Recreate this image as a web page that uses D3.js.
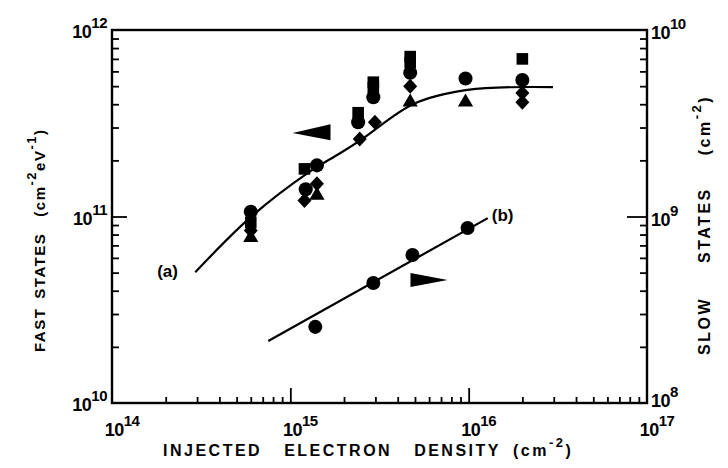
<!DOCTYPE html>
<html>
<head>
<meta charset="utf-8">
<script src="https://cdn.jsdelivr.net/npm/d3@7"></script>
<style>
  html, body { margin: 0; padding: 0; background: #fff; }
  svg { display: block; }
  text { font-family: "Liberation Sans", Arial, sans-serif; font-weight: bold; fill: #000; }
</style>
</head>
<body>
<svg id="chart" width="728" height="468"></svg>
<script>
// ---------------- data ----------------
const xExps = [14, 15, 16, 17];          // bottom axis decades
const leftExps = [10, 11, 12];            // fast states decades
const rightExps = [8, 9, 10];             // slow states decades

// Fast states (left axis), grouped by marker type: [x, y]
const fastCircles = [[6.0e14, 1.06e11], [1.22e15, 1.4e11], [1.41e15, 1.88e11], [2.4e15, 3.2e11],
                     [2.92e15, 4.36e11], [4.7e15, 5.9e11], [9.6e15, 5.5e11], [2.0e16, 5.4e11]];
const fastSquares = [[6.0e14, 9.3e10], [1.2e15, 1.8e11], [2.4e15, 3.6e11], [2.92e15, 5.25e11],
                     [2.92e15, 4.9e11], [4.7e15, 7.2e11], [4.7e15, 6.7e11], [2.0e16, 7.0e11]];
const fastDiamonds = [[6.0e14, 8.4e10], [1.2e15, 1.22e11], [1.41e15, 1.5e11], [2.45e15, 2.6e11],
                      [2.98e15, 3.2e11], [4.7e15, 5.0e11], [2.0e16, 4.6e11], [2.0e16, 4.1e11]];
const fastTriangles = [[6.0e14, 7.7e10], [1.41e15, 1.3e11], [4.7e15, 4.1e11], [9.6e15, 4.1e11]];

// Fitted curve (a) through the fast states
const curveA = [[2.93e14, 5.03e10], [6.12e14, 1.01e11], [1.25e15, 1.71e11], [1.91e15, 2.19e11],
                [2.54e15, 2.61e11], [4.91e15, 4.01e11], [9.86e15, 4.77e11], [2.97e16, 4.94e11]];

// Slow states (right axis)
const slowCircles = [[1.38e15, 2.56e8], [2.92e15, 4.40e8], [4.84e15, 6.22e8], [9.86e15, 8.67e8]];
const lineB = [[7.52e14, 2.15e8], [1.28e16, 9.8e8]];

// Axis-indicating arrows (tip first)
const arrowLeft = [[1.03e15, 2.8e11], [1.68e15, 3.12e11], [1.68e15, 2.56e11]];   // fast axis
const arrowRight = [[7.62e15, 4.57e8], [4.72e15, 4.98e8], [4.72e15, 4.19e8]];    // slow axis

const curveLabels = [{t: "(a)", x: 2.05e14, y: 5.1e10, axis: "left"},
                     {t: "(b)", x: 1.55e16, y: 1.02e9, axis: "right"}];

// Axis title pieces (plain text or text with superscripts)
const bottomTitle = [[{s: "INJECTED"}], [{s: "ELECTRON"}], [{s: "DENSITY"}],
                     [{s: "(cm"}, {s: "-2", sup: true}, {s: ")"}]];
const leftTitle = [[{s: "FAST"}], [{s: "STATES"}],
                   [{s: "(cm"}, {s: "-2", sup: true}, {s: "eV"}, {s: "-1", sup: true}, {s: ")"}]];
const rightTitle = [[{s: "SLOW"}], [{s: "STATES"}], [{s: "(cm"}, {s: "-2", sup: true}, {s: ")"}]];

// ---------------- chart ----------------
const svg = d3.select("#chart");
const L = 112, R = 647, T = 30, B = 403;

const x = d3.scaleLog().domain([1e14, 1e17]).range([L, R]);
const yL = d3.scaleLog().domain([1e10, 1e12]).range([B, T]);
const yR = d3.scaleLog().domain([1e8, 1e10]).range([B, T]);

function minors(lo, hi) {
  const out = [];
  for (let e = lo; e < hi; e++) for (let k = 2; k <= 9; k++) out.push(k * Math.pow(10, e));
  return out;
}

// frame
svg.append("rect").attr("x", L).attr("y", T).attr("width", R - L).attr("height", B - T)
  .attr("fill", "none").attr("stroke", "#000").attr("stroke-width", 2.4);

// ticks (inward) via d3 axes
const gx = svg.append("g").attr("transform", `translate(0,${B})`)
  .call(d3.axisBottom(x).tickValues(minors(14, 17)).tickSize(-6).tickFormat(""));
const gxM = svg.append("g").attr("transform", `translate(0,${B})`)
  .call(d3.axisBottom(x).tickValues([1e15, 1e16]).tickSize(-15).tickFormat(""));
const gl = svg.append("g").attr("transform", `translate(${L},0)`)
  .call(d3.axisLeft(yL).tickValues(minors(10, 12)).tickSize(-7).tickFormat(""));
const glM = svg.append("g").attr("transform", `translate(${L},0)`)
  .call(d3.axisLeft(yL).tickValues([1e11]).tickSize(-15).tickFormat(""));
const gr = svg.append("g").attr("transform", `translate(${R},0)`)
  .call(d3.axisRight(yR).tickValues(minors(8, 10)).tickSize(-7).tickFormat(""));
const grM = svg.append("g").attr("transform", `translate(${R},0)`)
  .call(d3.axisRight(yR).tickValues([1e9]).tickSize(-20).tickFormat(""));
[gx, gxM, gl, glM, gr, grM].forEach(g => {
  g.select(".domain").remove();
  g.selectAll("line").attr("stroke", "#000").attr("stroke-width", 1.8);
});

// tick labels: 10 with superscript
function powLabel(xPos, yPos, exp, anchor) {
  const t = svg.append("text").attr("x", xPos).attr("y", yPos).attr("text-anchor", anchor)
    .attr("font-size", 18).attr("letter-spacing", -0.5);
  t.append("tspan").text("10");
  t.append("tspan").attr("dy", -10).attr("font-size", 15).text(String(exp));
}
xExps.forEach(e => powLabel(x(Math.pow(10, e)) + 10, B + 33, e, "middle"));
leftExps.forEach(e => powLabel(L - 5, yL(Math.pow(10, e)) + 8, e, "end"));
rightExps.forEach(e => powLabel(R + 4, yR(Math.pow(10, e)) + (e === 8 ? 4 : 9), e, "start"));

// axis titles: pieces laid out in sequence with measured widths
function piece(parts, fs, ls) {
  const t = svg.append("text").attr("font-size", fs).attr("letter-spacing", ls);
  let up = false;
  parts.forEach(p => {
    const ts = t.append("tspan").text(p.s);
    if (p.sup && !up) { ts.attr("dy", -9).attr("font-size", 13); up = true; }
    else if (p.sup) { ts.attr("font-size", 13); }
    else if (up) { ts.attr("dy", 9); up = false; }
  });
  return t;
}
function layout(pieces, start, gaps, fixed, rot, fs, ls) {
  let pos = start;
  pieces.forEach((p, i) => {
    const t = piece(p, fs, ls);
    const w = t.node().getComputedTextLength();
    if (rot === 0) t.attr("x", pos).attr("y", fixed);
    else t.attr("transform", `translate(${fixed},${pos}) rotate(-90)`);
    pos += (rot === 0 ? 1 : -1) * (w + (gaps[i] || 0));
  });
}
layout(bottomTitle, 163, [22, 22, 12], 456, 0, 16, 2.5);
layout(leftTitle, 352, [9, 16], 45, -90, 15, 1.5);
layout(rightTitle, 355, [34, 32], 710, -90, 16, 2.5);

// curves
const lineGen = d3.line().curve(d3.curveCatmullRom.alpha(0.5));
svg.append("path").attr("d", lineGen(curveA.map(d => [x(d[0]), yL(d[1])])))
  .attr("fill", "none").attr("stroke", "#000").attr("stroke-width", 2.2);
svg.append("path").attr("d", d3.line()(lineB.map(d => [x(d[0]), yR(d[1])])))
  .attr("fill", "none").attr("stroke", "#000").attr("stroke-width", 2.2);

// markers
const circleSym = d3.symbol().type(d3.symbolCircle).size(155);
const squareSym = d3.symbol().type(d3.symbolSquare).size(135);
const triSym = d3.symbol().type(d3.symbolTriangle).size(100);
function diamondPath(w, h) { return `M0,${-h/2}L${w/2},0L0,${h/2}L${-w/2},0Z`; }

function drawMarks(data, yScale, pathFn) {
  svg.append("g").selectAll("path").data(data).join("path")
    .attr("transform", d => `translate(${x(d[0])},${yScale(d[1])})`)
    .attr("d", pathFn).attr("fill", "#000");
}
drawMarks(fastCircles, yL, () => circleSym());
drawMarks(fastSquares, yL, () => squareSym());
drawMarks(fastDiamonds, yL, () => diamondPath(14, 15));
drawMarks(fastTriangles, yL, () => triSym());
drawMarks(slowCircles, yR, () => circleSym());

// arrows
svg.append("path").attr("d", d3.line()(arrowLeft.map(d => [x(d[0]), yL(d[1])])) + "Z").attr("fill", "#000");
svg.append("path").attr("d", d3.line()(arrowRight.map(d => [x(d[0]), yR(d[1])])) + "Z").attr("fill", "#000");

// curve labels
curveLabels.forEach(c => {
  const ys = c.axis === "left" ? yL : yR;
  svg.append("text").attr("x", x(c.x)).attr("y", ys(c.y)).attr("dy", "0.35em")
    .attr("text-anchor", "middle").attr("font-size", 17).text(c.t);
});
</script>
</body>
</html>
